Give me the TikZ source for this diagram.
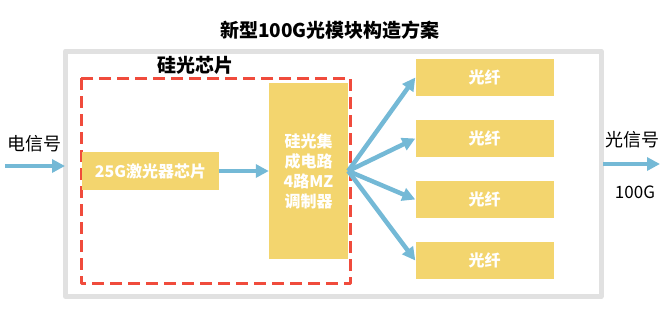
\documentclass[tikz,border=0pt]{standalone}
\usepackage{fontspec}
\setmainfont{Noto Sans CJK SC}
\usetikzlibrary{arrows.meta}
\definecolor{boxyellow}{RGB}{243,213,110}
\definecolor{arrowblue}{RGB}{116,185,214}
\definecolor{chipred}{RGB}{240,75,60}
\definecolor{framegray}{RGB}{225,225,225}
\tikzset{
	block/.style={fill=boxyellow, text=white, font=\fontsize{16}{20}\selectfont\bfseries, align=center, inner sep=0pt},
	flow/.style={->, arrowblue, line width=4.5pt},
}
\begin{document}
\begin{tikzpicture}[x=1pt, y=-1pt, line join=round, >={Triangle[length=13pt, width=13pt]}]
	\useasboundingbox (0,0) rectangle (667,311);
	
	% Tiêu đề và khung ngoài
	\node[font=\fontsize{19}{22}\selectfont\bfseries] (title) at (330,30) {新型100G光模块构造方案};
	\draw[framegray, line width=5pt] (65.5,51) rectangle (601,296.5);
	
	% Khung chip silic
	\draw[chipred, line width=3pt, dashed, dash pattern=on 12pt off 6pt] (81,78) rectangle (350,283);
	\node[font=\fontsize{19}{22}\selectfont\bfseries] (chip) at (195,65) {硅光芯片};
	
	% Các khối
	\node[block, minimum width=137pt, minimum height=38pt] (laser) at (150.5,171) {25G激光器芯片};
	\node[block, minimum width=79pt, minimum height=176pt] (mz) at (308.5,171) {硅光集\\成电路\\4路MZ\\调制器};
	\foreach \n/\y in {1/77.5, 2/138.5, 3/199.5, 4/260.5}
	\node[block, minimum width=138pt, minimum height=37pt] (fiber\n) at (484.5,\y) {光纤};
	
	% Tín hiệu vào ra
	\coordinate (inL) at (5,166);
	\coordinate (inR) at (65,166);
	\coordinate (outL) at (603,164);
	\coordinate (outR) at (660,164);
	\node[font=\fontsize{18}{20}\selectfont] (elec) at (35,144) {电信号};
	\node[font=\fontsize{18}{20}\selectfont] (opt) at (632,140) {光信号};
	\node[font=\fontsize{17}{20}\selectfont] (rate) at (635,192) {100G};
	
	% Mũi tên
	\draw[flow] (inL) -- (inR);
	\draw[flow] (laser) -- (mz);
	\foreach \n in {1,...,4}
	\draw[flow] (mz.east) -- (fiber\n.west);
	\draw[flow] (outL) -- (outR);
\end{tikzpicture}
\end{document}
